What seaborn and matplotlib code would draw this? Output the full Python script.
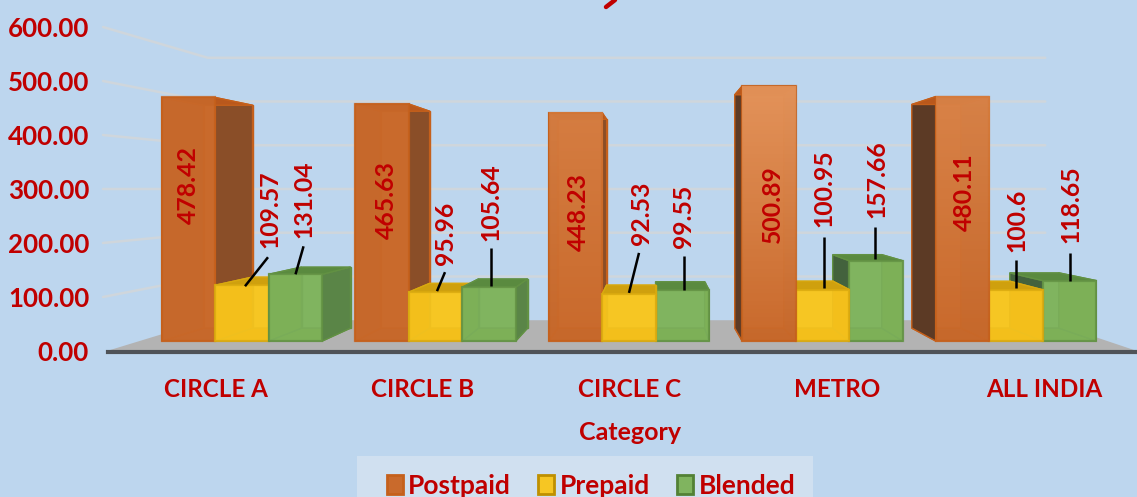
import numpy as np
import pandas as pd
import matplotlib
matplotlib.use("Agg")
import matplotlib.pyplot as plt
from matplotlib.patches import Polygon, Rectangle
from matplotlib.lines import Line2D
from matplotlib.colors import LinearSegmentedColormap
import seaborn as sns

# ---- data ----
categories = ["CIRCLE A", "CIRCLE B", "CIRCLE C", "METRO", "ALL INDIA"]
postpaid = [478.42, 465.63, 448.23, 500.89, 480.11]
prepaid = [109.57, 95.96, 92.53, 100.95, 100.6]
blended = [131.04, 105.64, 99.55, 157.66, 118.65]
value_texts = {
    "Postpaid": ["478.42", "465.63", "448.23", "500.89", "480.11"],
    "Prepaid": ["109.57", "95.96", "92.53", "100.95", "100.6"],
    "Blended": ["131.04", "105.64", "99.55", "157.66", "118.65"],
}
y_ticks = [0, 100, 200, 300, 400, 500, 600]
y_tick_labels = ["0.00", "100.00", "200.00", "300.00", "400.00", "500.00", "600.00"]
series_names = ["Postpaid", "Prepaid", "Blended"]

# ---- label placement (pixel offsets from the top centre of each bar) ----
label_dx = {"Postpaid": [0, 4, 3, 3, 2], "Prepaid": [28, 9.5, 12, 1.5, 1], "Blended": [8, 2, 1, 1, 1]}
label_dy = {"Postpaid": [-87.5, -96, -99, -118, -96], "Prepaid": [76, 59, 81, 101, 69], "Blended": [75, 85, 74, 82, 76]}
lead_x0 = {"Prepaid": [26, 9.5, 10, 1.5, 0], "Blended": [8, 2, 1, -1, 0]}
lead_y0 = {"Prepaid": [28, 20, 41, 53, 30], "Blended": [28, 39, 34, 34, 28]}
lead_x1 = {"Prepaid": [3, 1.5, 0, 1.5, 0], "Blended": [0, 2, 1, -1, 0]}
lead_y1 = {"Prepaid": [-1, 1, 1, 2, 2], "Blended": [0, 1, 0, 2, 0]}

# ---- styles ----
BG = "#BDD6EE"
RED = "#C00000"
FRONT = {"Postpaid": "#C96A2C", "Prepaid": "#F6C623", "Blended": "#80B45F"}
EDGE = {"Postpaid": "#C5601B", "Prepaid": "#D9A90F", "Blended": "#629143"}
LEG_EDGE = {"Postpaid": "#C5601B", "Prepaid": "#BF9000", "Blended": "#538135"}
BACK = {"Postpaid": "#CC6E30", "Prepaid": "#F7C926", "Blended": "#82B762"}
HIDDEN = {"Postpaid": "#BF6228", "Prepaid": "#EBAA00", "Blended": "#74A53C"}
TOP = {"Postpaid": "#B9581C", "Prepaid": "#CFA00E", "Blended": "#5A8A3F"}
RIGHT = {"Postpaid": "#8A4E28", "Prepaid": "#E3B309", "Blended": "#5A8547"}
LEFT = {"Postpaid": "#5C3A25", "Prepaid": "#B98F10", "Blended": "#43623D"}
glow = [0.0, 0.0, 0.14, 0.30, 0.18]

sns.set_theme(style="white")
plt.rcParams["font.family"] = ["Lato", "DejaVu Sans"]
plt.rcParams["font.weight"] = "bold"

W, H = 1137, 497
fig = plt.figure(figsize=(W / 100, H / 100), dpi=100, facecolor=BG)
ax = fig.add_axes([103 / W, (H - 351.5) / H, (W - 103) / W, 351.5 / H])
ax.set_facecolor("none")

df = pd.DataFrame({
    "Category": categories * 3,
    "Value": postpaid + prepaid + blended,
    "Plan": sum([[n] * len(categories) for n in series_names], []),
})
sns.barplot(data=df, x="Category", y="Value", hue="Plan", hue_order=series_names,
            palette=FRONT, width=0.83, gap=0, saturation=1, errorbar=None, ax=ax)

PX_X, PX_Y = 193.5, 0.509            # pixels per category / per unit
X0_PX, Y0_PX = 242, 341              # pixel of category 0 / value 0 on bar plane
VX, VY = 2.13, 298.6                 # vanishing point, data coordinates
BAR_DEPTH, WALL_DEPTH = 0.915, 0.81


def persp(x, y, s):
    return VX + s * (x - VX), VY + s * (y - VY)


def wall_y(v):
    return (0.54 * v - 10) / PX_Y


xl, xr = (103 - X0_PX) / PX_X, (W - X0_PX) / PX_X
ylim = ((Y0_PX - 351.5) / PX_Y, Y0_PX / PX_Y)

# floor
f0 = wall_y(0)
floor = [(xl + 0.02, f0), persp(xl, f0, WALL_DEPTH), persp(xr, f0, WALL_DEPTH), (xr, f0)]
ax.add_patch(Polygon(floor, closed=True, fc="#B3B3B3", ec="none", zorder=1))
# gridlines on the walls
for v in y_ticks[1:]:
    yf = wall_y(v)
    bl = persp(xl, yf, WALL_DEPTH)
    br = persp(xr, yf, WALL_DEPTH)
    ax.plot([xl, bl[0], br[0]], [yf, bl[1], br[1]], color="#CFD6DC", lw=1.8, zorder=0.5, clip_on=False)

# 3D faces around every seaborn bar
for cont, name in zip(ax.containers, series_names):
    for i, bar in enumerate(cont):
        x0, w, h = bar.get_x(), bar.get_width(), bar.get_height()
        x1 = x0 + w
        xc = x0 + w / 2
        z = 10 - abs(xc - VX)
        pts = {k: p for k, p in zip("abcd", [(x0, 0), (x1, 0), (x1, h), (x0, h)])}
        back = {k: persp(*p, BAR_DEPTH) for k, p in pts.items()}
        ec = EDGE[name]
        kw = dict(closed=True, ec=ec, lw=1.0, zorder=z)
        ax.add_patch(Polygon([back[k] for k in "abcd"], fc=BACK[name], **kw))
        ax.add_patch(Polygon([pts["a"], pts["b"], back["b"], back["a"]], fc=HIDDEN[name], **kw))
        if xc < VX:
            ax.add_patch(Polygon([pts["a"], pts["d"], back["d"], back["a"]], fc=HIDDEN[name], **kw))
            ax.add_patch(Polygon([pts["b"], pts["c"], back["c"], back["b"]], fc=RIGHT[name], **kw))
        else:
            ax.add_patch(Polygon([pts["b"], pts["c"], back["c"], back["b"]], fc=HIDDEN[name], **kw))
            ax.add_patch(Polygon([pts["a"], pts["d"], back["d"], back["a"]], fc=LEFT[name], **kw))
        ax.add_patch(Polygon([pts["d"], pts["c"], back["c"], back["d"]], fc=TOP[name], **kw))
        bar.set_zorder(z + 0.001)
        bar.set_alpha(0.78)
        bar.set_edgecolor(ec)
        bar.set_linewidth(1.6)
        if name == "Postpaid" and glow[i] > 0:
            cmap = LinearSegmentedColormap.from_list("g", [(1, 0.75, 0.55, glow[i] * 1.6), (1, 0.75, 0.55, 0)])
            ax.imshow(np.linspace(0, 1, 64)[:, None], extent=(x0, x1, 0, h), origin="upper",
                      aspect="auto", cmap=cmap, zorder=z + 0.002)
        ax.annotate(value_texts[name][i], xy=(xc, h), xytext=(label_dx[name][i], label_dy[name][i]),
                    textcoords="offset pixels", rotation=90, ha="center", va="center",
                    fontsize=17.8, color=RED, fontweight="bold", zorder=60)
        if name in lead_x0:
            ax.plot([xc + lead_x0[name][i] / PX_X, xc + lead_x1[name][i] / PX_X],
                    [h + lead_y0[name][i] / PX_Y, h + lead_y1[name][i] / PX_Y],
                    color="black", lw=1.8, zorder=55, solid_capstyle="butt")

ax.set_xlim(xl, xr)
ax.set_ylim(*ylim)

# axes furniture: category labels sit on the wider front plane of the floor
tick_spread, tick_mid = 207 / PX_X, (630 - X0_PX) / PX_X
ax.set_xticks([tick_mid + tick_spread * (i - 2) for i in range(len(categories))], categories)
ax.set_yticks([wall_y(v) for v in y_ticks], y_tick_labels)
ax.tick_params(axis="y", length=0, pad=10, labelsize=18.7, labelcolor=RED)
ax.tick_params(axis="x", length=0, pad=19, labelsize=17.4, labelcolor=RED)
ax.set_ylabel("")
ax.set_xlabel("Category", fontsize=18, color=RED, fontweight="bold", va="center")
ax.xaxis.set_label_coords((630 - 103) / (W - 103), (351.5 - 433) / 351.5)
for s in ["left", "right", "top"]:
    ax.spines[s].set_visible(False)
ax.spines["bottom"].set_color("#4F5358")
ax.spines["bottom"].set_linewidth(3)
ax.spines["bottom"].set_zorder(40)
ax.spines["bottom"].set_bounds(xl + 0.026, xr)

# the tail of a title that the reference crops at its top edge
fig.add_artist(Line2D([615 / W, 606 / W], [1, 1 - 7 / H], color=RED, lw=3.2))

# legend band and legend
fig.add_artist(Rectangle((357 / W, 0), 456 / W, 41 / H, transform=fig.transFigure,
                         fc="#D0E0F0", ec="none", zorder=-1))
sns.move_legend(ax, "center", bbox_to_anchor=(591 / W, 11 / H), bbox_transform=fig.transFigure,
                ncol=3, title=None, frameon=False, fontsize=19, handlelength=0.62, handleheight=0.72,
                handletextpad=0.2, columnspacing=1.02, borderaxespad=0, borderpad=0)
leg = ax.get_legend()
for t in leg.get_texts():
    t.set_color(RED)
for p, name in zip(leg.get_patches(), series_names):
    p.set_edgecolor(LEG_EDGE[name])
    p.set_linewidth(2)
    p.set_alpha(1)

fig.savefig("out.png", dpi=100, facecolor=BG)
